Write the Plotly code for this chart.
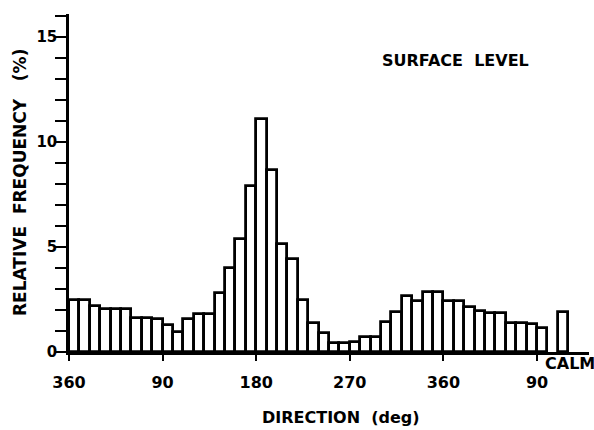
import plotly.graph_objects as go

# Wind direction bins (deg, left edge of each 10-deg bin, continuing past 360)
directions = list(range(0, 460, 10))
frequency = [2.5, 2.5, 2.2, 2.05, 2.05, 2.05, 1.6, 1.6, 1.55, 1.3,
             0.95, 1.55, 1.8, 1.8, 2.8, 4.0, 5.4, 7.9, 11.1, 8.65,
             5.15, 4.45, 2.5, 1.4, 0.9, 0.45, 0.45, 0.5, 0.7, 0.7,
             1.45, 1.9, 2.65, 2.45, 2.85, 2.85, 2.45, 2.45, 2.15, 1.95,
             1.85, 1.85, 1.4, 1.4, 1.35, 1.15]
calm_value = 1.9
calm_pos = 475

tick_vals = [0, 90, 180, 270, 360, 450]
tick_text = ["360", "90", "180", "270", "360", "90"]
y_ticks = [0, 5, 10, 15]

TITLE_FONT = dict(family="DejaVu Sans", size=16, color="black", weight="bold")

fig = go.Figure()
fig.add_trace(go.Bar(
    x=[d + 5 for d in directions], y=frequency, width=10,
    marker=dict(color="white", line=dict(color="black", width=2.8)),
    showlegend=False,
))
fig.add_trace(go.Bar(
    x=[calm_pos], y=[calm_value], width=9,
    marker=dict(color="white", line=dict(color="black", width=2.8)),
    showlegend=False,
))

fig.update_layout(
    width=594, height=430,
    margin=dict(l=69, r=5, t=14, b=78),
    paper_bgcolor="white", plot_bgcolor="white",
    bargap=0,
    xaxis=dict(
        range=[0, 500], tickvals=tick_vals, ticktext=tick_text,
        showgrid=False, zeroline=False, showline=True, linecolor="black", linewidth=2.8,
        ticks="outside", ticklen=6, tickwidth=2, tickcolor="black",
        ticklabelstandoff=8,
        tickfont=dict(family="DejaVu Sans", size=16, color="black", weight="bold"),
    ),
    yaxis=dict(
        range=[0, 16.1], tickvals=y_ticks,
        showgrid=False, zeroline=False, showline=True, linecolor="black", linewidth=2.5,
        ticks="outside", ticklen=6, tickwidth=2, tickcolor="black",
        minor=dict(dtick=1, ticks="outside", ticklen=11, tickwidth=2, tickcolor="black"),
        tickfont=dict(family="DejaVu Sans", size=15, color="black", weight="bold"),
    ),
    annotations=[
        dict(text="RELATIVE  FREQUENCY   (%)", xref="paper", yref="paper",
             x=(20 - 69) / 520, y=0.5, textangle=-90, showarrow=False,
             xanchor="center", yanchor="middle",
             font=dict(family="DejaVu Sans", size=17, color="black", weight="bold")),
        dict(text="DIRECTION  (deg)", xref="paper", yref="paper",
             x=(341 - 69) / 520, y=(352 - 418) / 338, showarrow=False,
             xanchor="center", yanchor="middle", font=TITLE_FONT),
        dict(text="SURFACE  LEVEL", xref="paper", yref="paper",
             x=(455 - 69) / 520, y=(352 - 60) / 338, showarrow=False,
             xanchor="center", yanchor="middle", font=TITLE_FONT),
        dict(text="CALM", xref="paper", yref="paper",
             x=(543 - 69) / 520, y=(352 - 363) / 338, showarrow=False,
             xanchor="left", yanchor="middle", font=TITLE_FONT),
    ],
)

fig.write_html("out.html")
